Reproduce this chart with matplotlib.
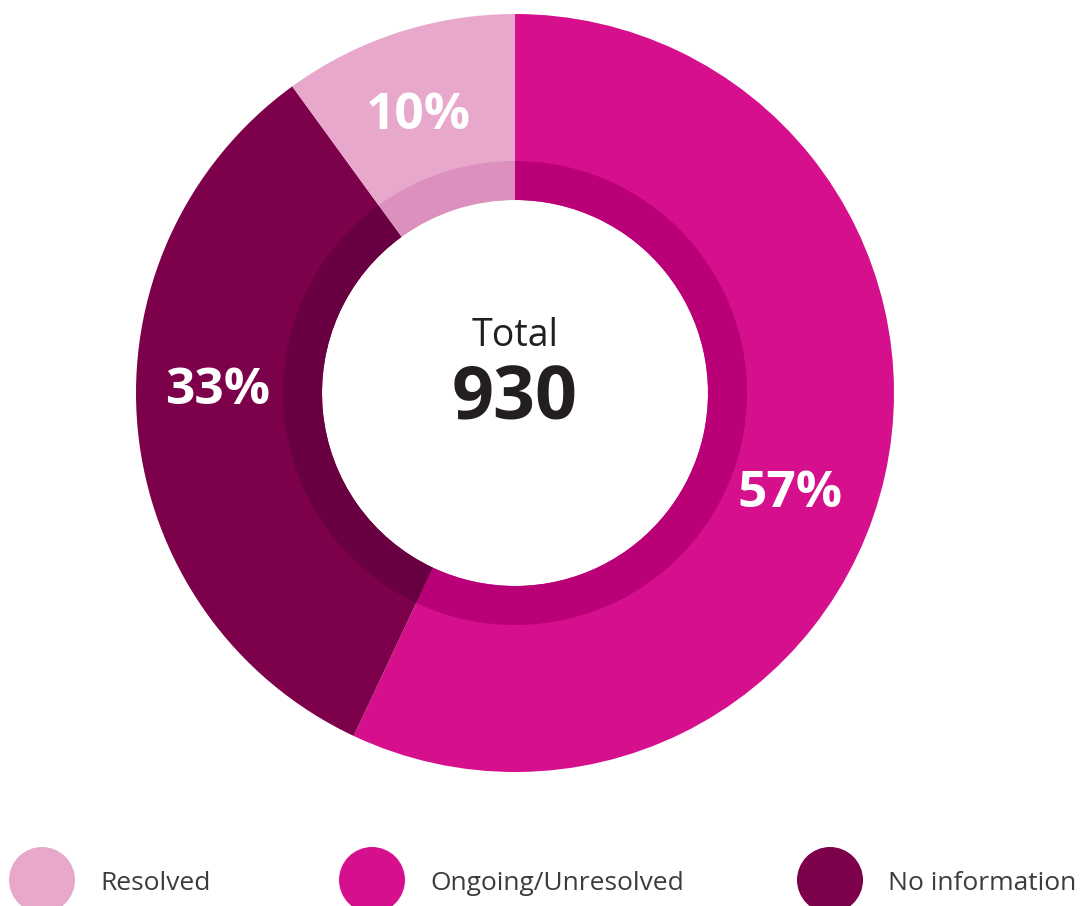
import matplotlib.pyplot as plt
from matplotlib.patches import Circle

labels = ["Ongoing/Unresolved", "No information", "Resolved"]
shares = [57, 33, 10]
colors = ["#D60F8C", "#7D004A", "#E8A8CC"]
inner_colors = ["#BA0077", "#690041", "#DB90BD"]
total = 930

legend_order = ["Resolved", "Ongoing/Unresolved", "No information"]

plt.rcParams['font.family'] = ['Open Sans', 'DejaVu Sans']

W, H = 1082, 906
fig = plt.figure(figsize=(W / 100, H / 100), dpi=100)
ax = fig.add_axes([0, 0, 1, 1])
ax.set_xlim(0, W)
ax.set_ylim(0, H)
ax.set_aspect('equal')
ax.axis('off')

cx, cy = 515, H - 393
r_out, r_ring, r_hole = 379, 232, 193

# outer ring
ax.pie(shares, colors=colors, startangle=90, counterclock=False,
       radius=r_out, center=(cx, cy),
       wedgeprops=dict(width=r_out - r_hole, linewidth=0))
# darker inner band
ax.pie(shares, colors=inner_colors, startangle=90, counterclock=False,
       radius=r_ring, center=(cx, cy),
       wedgeprops=dict(width=r_ring - r_hole, linewidth=0))
ax.set_xlim(0, W)
ax.set_ylim(0, H)

# percent labels
pct_pos = {"Ongoing/Unresolved": (790, 494), "No information": (218, 391), "Resolved": (418, 116)}
for lab, s in zip(labels, shares):
    x, y = pct_pos[lab]
    ax.text(x, H - y, f"{s}%", color="white", fontsize=37, fontweight="bold",
            ha="center", va="center")

ax.text(cx, H - 336, "Total", fontsize=27, color="#231F20", ha="center", va="center")
ax.text(cx, H - 401, str(total), fontsize=53, fontweight="bold", color="#231F20",
        ha="center", va="center")

# legend
lg_circ_x = [42, 372, 830]
lg_text_x = [100, 430, 888]
for lab, xc, xt in zip(legend_order, lg_circ_x, lg_text_x):
    col = colors[labels.index(lab)]
    ax.add_patch(Circle((xc, H - 880), 33, color=col, lw=0))
    ax.text(xt, H - 884, lab, fontsize=19, color="#3C3C3C", ha="left", va="center")

fig.savefig("out.png", dpi=100)
